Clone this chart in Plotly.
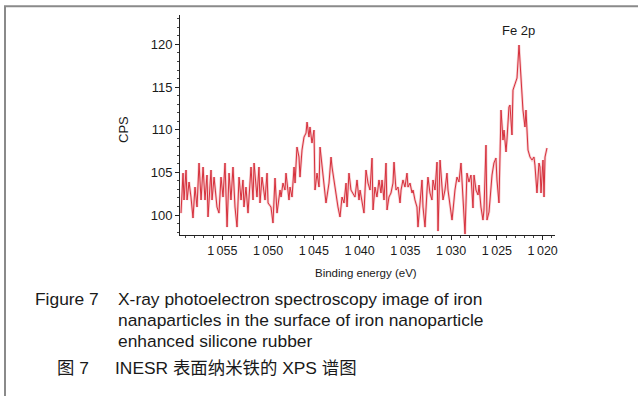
import plotly.graph_objects as go

# Binding energy (eV) and counts (CPS)
energy = [
    1059.51, 1059.29, 1059.18, 1058.96, 1058.85, 1058.63, 1058.42, 1058.20, 1057.98, 1057.76,
    1057.54, 1057.32, 1057.10, 1056.89, 1056.67, 1056.56, 1056.23, 1056.12, 1055.90, 1055.58,
    1055.36, 1055.14, 1054.92, 1054.70, 1054.48, 1054.26, 1054.05, 1053.83, 1053.61, 1053.39,
    1053.17, 1052.95, 1052.74, 1052.63, 1052.41, 1052.19, 1051.86, 1051.64, 1051.53, 1051.21,
    1050.99, 1050.88, 1050.66, 1050.33, 1050.11, 1050.00, 1049.68, 1049.46, 1049.24, 1049.02,
    1048.69, 1048.58, 1048.37, 1048.15, 1048.04, 1047.71, 1047.60, 1047.38, 1047.16, 1047.05,
    1046.84, 1046.62, 1046.51, 1046.29, 1046.07, 1045.85, 1045.74, 1045.53, 1045.42, 1045.20,
    1044.98, 1044.87, 1044.65, 1044.43, 1044.32, 1044.11, 1043.89, 1043.67, 1043.34, 1043.12,
    1043.01, 1042.69, 1042.58, 1042.36, 1042.14, 1041.92, 1041.70, 1041.48, 1041.37, 1041.16,
    1040.94, 1040.72, 1040.50, 1040.28, 1040.06, 1039.95, 1039.74, 1039.52, 1039.30, 1039.08,
    1038.86, 1038.64, 1038.53, 1038.32, 1038.10, 1037.88, 1037.66, 1037.55, 1037.33, 1037.11,
    1037.00, 1036.79, 1036.57, 1036.35, 1036.24, 1036.02, 1035.80, 1035.58, 1035.47, 1035.26,
    1035.04, 1034.82, 1034.71, 1034.49, 1034.27, 1034.16, 1033.95, 1033.73, 1033.62, 1033.40,
    1033.18, 1033.07, 1032.85, 1032.63, 1032.53, 1032.31, 1032.09, 1031.98, 1031.76, 1031.54,
    1031.43, 1031.21, 1031.00, 1030.89, 1030.67, 1030.45, 1030.34, 1030.12, 1029.90, 1029.79,
    1029.58, 1029.36, 1029.14, 1028.92, 1028.70, 1028.48, 1028.27, 1028.05, 1027.83, 1027.61,
    1027.50, 1027.28, 1027.06, 1026.95, 1026.74, 1026.52, 1026.41, 1026.19, 1026.08, 1025.86,
    1025.75, 1025.53, 1025.32, 1025.10, 1024.99, 1024.77, 1024.55, 1024.33, 1024.22, 1024.00,
    1023.90, 1023.68, 1023.57, 1023.35, 1023.24, 1023.02, 1022.80, 1022.58, 1022.37, 1022.15,
    1021.93, 1021.82, 1021.60, 1021.38, 1021.16, 1020.95, 1020.84, 1020.62, 1020.40, 1020.29,
    1020.18, 1019.96, 1019.85, 1019.74, 1019.53,
]
cps = [
    100.23, 104.92, 101.76, 105.28, 101.76, 103.87, 102.11, 99.65, 103.28, 100.94,
    106.10, 101.76, 105.63, 101.76, 104.69, 99.77, 105.28, 101.76, 104.45, 100.94,
    100.23, 104.45, 102.11, 106.10, 98.59, 104.92, 101.76, 105.63, 100.94, 98.59,
    104.45, 101.76, 104.11, 100.94, 103.28, 100.23, 105.63, 101.76, 106.10, 102.11,
    105.63, 101.41, 104.45, 101.76, 104.92, 101.41, 100.94, 99.06, 104.34, 100.23,
    102.93, 102.11, 103.75, 102.93, 104.92, 101.76, 103.28, 102.11, 105.63, 103.75,
    107.97, 106.80, 104.45, 107.62, 109.14, 109.61, 110.90, 109.14, 110.32, 108.44,
    109.96, 102.93, 104.92, 103.28, 107.97, 105.63, 103.28, 101.41, 103.75, 106.80,
    105.63, 103.28, 102.11, 100.94, 99.77, 102.11, 101.41, 103.75, 100.94, 104.92,
    102.93, 102.58, 102.11, 104.11, 101.76, 102.93, 101.76, 100.23, 105.28, 103.75,
    102.93, 106.68, 100.59, 103.28, 102.11, 104.11, 102.58, 104.11, 101.76, 106.10,
    100.59, 102.11, 102.58, 103.75, 106.21, 102.93, 103.28, 101.41, 102.93, 104.11,
    103.28, 104.92, 103.28, 103.75, 102.58, 102.93, 101.76, 100.94, 98.59, 101.76,
    104.11, 100.94, 98.59, 102.93, 104.45, 102.58, 101.76, 104.11, 102.93, 106.21,
    98.12, 106.45, 103.75, 101.76, 102.93, 104.92, 102.93, 100.94, 99.41, 100.59,
    102.93, 104.45, 103.87, 106.10, 101.76, 97.77, 104.92, 103.87, 104.69, 100.82,
    104.69, 102.93, 102.35, 103.52, 100.94, 99.41, 100.59, 108.20, 99.41, 100.35,
    101.76, 104.69, 106.10, 106.68, 104.11, 101.41, 112.31, 108.79, 109.96, 107.39,
    108.79, 112.66, 112.90, 109.38, 114.65, 115.47, 116.06, 119.93, 116.18, 112.31,
    110.32, 112.31, 107.62, 106.80, 106.45, 106.80, 105.86, 102.58, 106.10, 105.63,
    102.58, 106.45, 102.11, 106.80, 107.85,
]

x_tickvals = [1055, 1050, 1045, 1040, 1035, 1030, 1025, 1020]
x_ticktext = ["1\u2009055", "1\u2009050", "1\u2009045", "1\u2009040",
              "1\u2009035", "1\u2009030", "1\u2009025", "1\u2009020"]
y_tickvals = [100, 105, 110, 115, 120]

peak_label = "Fe 2p"
y_title = "CPS"
x_title = "Binding energy (eV)"
caption_en_label = "Figure 7"
caption_en_lines = [
    "X-ray photoelectron spectroscopy image of iron",
    "nanaparticles in the surface of iron nanoparticle",
    "enhanced silicone rubber",
]
caption_cn_label = "图 7"
caption_cn_text = "INESR 表面纳米铁的 XPS 谱图"

W, H = 638, 396
L, R, T, B = 180, 555, 15, 235  # plot area in pixels
pw, ph = R - L, B - T


def px(xp):
    return (xp - L) / pw


def py(yp):
    return (B - yp) / ph


FONT = "Liberation Sans, Arial, Noto Sans CJK SC, sans-serif"

fig = go.Figure()
fig.add_trace(go.Scatter(
    x=energy, y=cps, mode="lines",
    line=dict(color="rgba(240,160,165,0.55)", width=2.6),
    hoverinfo="skip", showlegend=False,
))
fig.add_trace(go.Scatter(
    x=energy, y=cps, mode="lines",
    line=dict(color="rgb(214,48,60)", width=1),
    showlegend=False,
))

fig.update_layout(
    width=W, height=H,
    margin=dict(l=L, r=W - R, t=T, b=H - B),
    paper_bgcolor="white", plot_bgcolor="white",
    font=dict(family=FONT, color="#1a1a1a", size=13),
    xaxis=dict(
        range=[1059.62, 1018.65], showgrid=False, zeroline=False,
        showline=True, linecolor="#222", linewidth=1,
        ticks="outside", ticklen=4, tickcolor="#222",
        tickvals=x_tickvals, ticktext=x_ticktext,
        tickfont=dict(size=12.5),
        minor=dict(ticks="outside", ticklen=2, dtick=1, tickcolor="#444"),
    ),
    yaxis=dict(
        range=[97.66, 123.45], showgrid=False, zeroline=False,
        showline=True, linecolor="#222", linewidth=1,
        ticks="outside", ticklen=4, tickcolor="#222",
        tickvals=y_tickvals, tickfont=dict(size=13),
        minor=dict(ticks="outside", ticklen=2, dtick=1, tickcolor="#444"),
    ),
)

ann = []
ann.append(dict(text=peak_label, x=px(518), y=py(30), xref="paper", yref="paper",
                showarrow=False, font=dict(size=13), xanchor="center", yanchor="middle"))
ann.append(dict(text=y_title, x=px(123), y=py(130), xref="paper", yref="paper",
                showarrow=False, textangle=-90, font=dict(size=13),
                xanchor="center", yanchor="middle"))
ann.append(dict(text=x_title, x=px(366), y=py(273), xref="paper", yref="paper",
                showarrow=False, font=dict(size=11.5), xanchor="center", yanchor="middle"))
ann.append(dict(text=caption_en_label, x=px(33), y=py(299), xref="paper", yref="paper",
                showarrow=False, font=dict(size=17.4), xanchor="left", yanchor="middle"))
for i, line in enumerate(caption_en_lines):
    ann.append(dict(text=line, x=px(116), y=py(299 + 21 * i), xref="paper", yref="paper",
                    showarrow=False, font=dict(size=17.4), xanchor="left", yanchor="middle"))
ann.append(dict(text=caption_cn_label, x=px(55), y=py(368), xref="paper", yref="paper",
                showarrow=False, font=dict(size=17.4), xanchor="left", yanchor="middle"))
ann.append(dict(text=caption_cn_text, x=px(113), y=py(368), xref="paper", yref="paper",
                showarrow=False, font=dict(size=17.4), xanchor="left", yanchor="middle"))
fig.update_layout(annotations=ann)

# outer frame of the figure (cropped on the right and bottom)
fig.add_shape(type="rect", xref="paper", yref="paper",
              x0=px(5), x1=px(645), y0=py(405), y1=py(6.3),
              line=dict(color="#8a8a8a", width=2), fillcolor="rgba(0,0,0,0)", layer="below")

fig.write_html("out.html")
